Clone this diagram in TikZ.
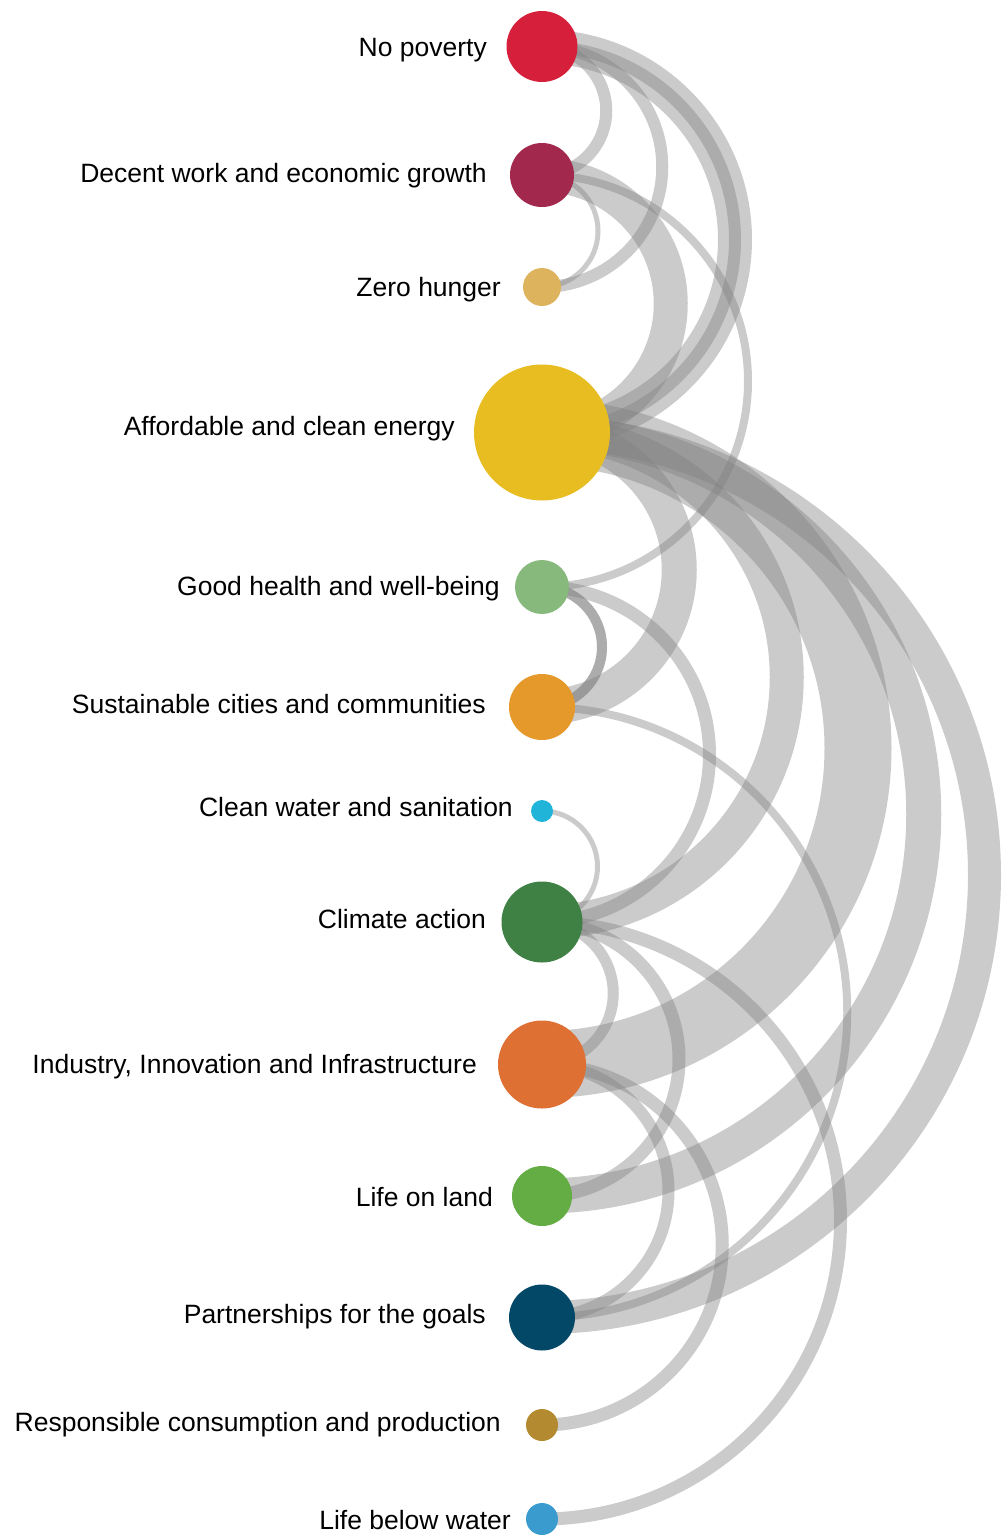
\documentclass[tikz,border=0pt]{standalone}
\usepackage{fontspec}
\setmainfont{Liberation Sans}
\usetikzlibrary{calc,backgrounds}
\definecolor{povred}{HTML}{D6203B}
\definecolor{workred}{HTML}{A2284E}
\definecolor{hungeryel}{HTML}{DDB35E}
\definecolor{energyyel}{HTML}{E8BD22}
\definecolor{healthgrn}{HTML}{87B97D}
\definecolor{citiesorg}{HTML}{E5992B}
\definecolor{waterblu}{HTML}{21B4D9}
\definecolor{climategrn}{HTML}{3F8044}
\definecolor{industryorg}{HTML}{DF7034}
\definecolor{landgrn}{HTML}{64AC44}
\definecolor{partnerblu}{HTML}{034867}
\definecolor{consumebrn}{HTML}{B38A30}
\definecolor{seablu}{HTML}{3A9BCF}
\definecolor{linkgray}{HTML}{808080}
\tikzset{
  goal/.style={circle,inner sep=0pt,minimum size=#1},
  goal label/.style={anchor=east,inner sep=0pt,text height=19pt,text depth=0pt,font=\fontsize{26.5}{30}\selectfont},
  link/.style={line width=#1pt,draw=linkgray,draw opacity=0.41,
    to path={let \p1=(\tikztostart),\p2=(\tikztotarget),\n1={(\y1-\y2)/2} in arc[start angle=90,end angle=-90,radius=\n1]}}
}
\begin{document}
\begin{tikzpicture}[x=1pt,y=-1pt]
    \useasboundingbox (0,0) rectangle (1006,1535);
    %% Goals
    \node[goal=71pt,fill=povred] (np) at (542,46.5) {};
    \node[goal=64pt,fill=workred] (dw) at (542,175) {};
    \node[goal=38pt,fill=hungeryel] (zh) at (542,287) {};
    \node[goal=136pt,fill=energyyel] (en) at (542,432.5) {};
    \node[goal=54pt,fill=healthgrn] (gh) at (542,587) {};
    \node[goal=66pt,fill=citiesorg] (sc) at (542,707) {};
    \node[goal=22pt,fill=waterblu] (cw) at (542,811) {};
    \node[goal=81pt,fill=climategrn] (ca) at (542,922) {};
    \node[goal=88pt,fill=industryorg] (ii) at (542,1064.5) {};
    \node[goal=60pt,fill=landgrn] (ll) at (542,1196) {};
    \node[goal=66pt,fill=partnerblu] (pg) at (542,1317.5) {};
    \node[goal=32pt,fill=consumebrn] (rc) at (542,1425) {};
    \node[goal=32pt,fill=seablu] (lb) at (542,1519) {};
    %% Labels
    \node[goal label] (npl) at (487,47) {No poverty};
    \node[goal label] (dwl) at (487,173) {Decent work and economic growth};
    \node[goal label] (zhl) at (501,287) {Zero hunger};
    \node[goal label] (enl) at (455,426) {Affordable and clean energy};
    \node[goal label] (ghl) at (500,586) {Good health and well-being};
    \node[goal label] (scl) at (486,704) {Sustainable cities and communities};
    \node[goal label] (cwl) at (513,807) {Clean water and sanitation};
    \node[goal label] (cal) at (486,919) {Climate action};
    \node[goal label] (iil) at (477,1064) {Industry, Innovation and Infrastructure};
    \node[goal label] (lll) at (493,1197) {Life on land};
    \node[goal label] (pgl) at (486,1313.5) {Partnerships for the goals};
    \node[goal label] (rcl) at (501,1422) {Responsible consumption and production};
    \node[goal label] (lbl) at (511,1519.5) {Life below water};
    %% Links
    \begin{pgfonlayer}{background}
        \draw[link=12] (np.center) to (dw.center);
        \draw[link=12] (np.center) to (zh.center);
        \draw[link=34] (np.center) to (en.center);
        \draw[link=12] (np.center) to (en.center);
        \draw[link=5] (dw.center) to (zh.center);
        \draw[link=34] (dw.center) to (en.center);
        \draw[link=8] (dw.center) to (gh.center);
        \draw[link=35] (en.center) to (sc.center);
        \draw[link=34] (en.center) to (ca.center);
        \draw[link=67] (en.center) to (ii.center);
        \draw[link=35] (en.center) to (ll.center);
        \draw[link=33] (en.center) to (pg.center);
        \draw[link=10] (gh.center) to (sc.center);
        \draw[link=10] (gh.center) to (sc.center);
        \draw[link=13] (gh.center) to (ca.center);
        \draw[link=8] (sc.center) to (pg.center);
        \draw[link=5] (cw.center) to (ca.center);
        \draw[link=11] (ca.center) to (ii.center);
        \draw[link=13] (ca.center) to (ll.center);
        \draw[link=13] (ca.center) to (lb.center);
        \draw[link=12] (ii.center) to (pg.center);
        \draw[link=13] (ii.center) to (rc.center);
    \end{pgfonlayer}
\end{tikzpicture}
\end{document}
